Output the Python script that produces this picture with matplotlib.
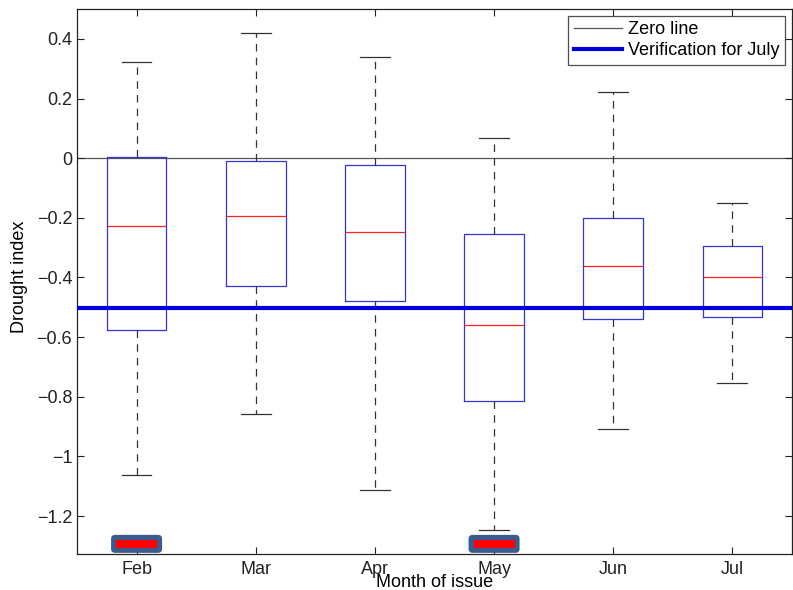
import matplotlib
matplotlib.use("Agg")
import matplotlib.pyplot as plt
from matplotlib.patches import FancyBboxPatch

plt.rcParams['font.family'] = ['Liberation Sans', 'DejaVu Sans']

months = ['Feb', 'Mar', 'Apr', 'May', 'Jun', 'Jul']
whisker_high = [0.322, 0.418, 0.340, 0.067, 0.222, -0.150]
q3 = [0.005, -0.010, -0.022, -0.253, -0.200, -0.295]
median = [-0.228, -0.195, -0.246, -0.560, -0.360, -0.398]
q1 = [-0.575, -0.430, -0.480, -0.813, -0.540, -0.532]
whisker_low = [-1.062, -0.858, -1.113, -1.248, -0.908, -0.755]

verification_july = -0.503
flagged_months = ['Feb', 'May']
flag_level = -1.293

fig = plt.figure(figsize=(7.93, 5.90), dpi=100)
ax = fig.add_axes([0.0971, 0.061, 0.9016, 0.9237])

stats = []
for m, wh, hi, med, lo, wl in zip(months, whisker_high, q3, median, q1, whisker_low):
    stats.append(dict(label=m, whishi=wh, q3=hi, med=med, q1=lo, whislo=wl, fliers=[]))

positions = list(range(1, len(months) + 1))
ax.bxp(stats, positions=positions, widths=0.5, showfliers=False,
       boxprops=dict(color='#3535d0', linewidth=0.9),
       medianprops=dict(color='#ff2020', linewidth=0.9),
       whiskerprops=dict(color='#333333', linewidth=0.9, linestyle=(0, (6, 5))),
       capprops=dict(color='#333333', linewidth=0.9))

ax.axhline(0, color='#555555', linewidth=0.9, label='Zero line', zorder=1)
ax.axhline(verification_july, color='#0000dd', linewidth=3, label='Verification for July', zorder=3)

# flagged issue months: rounded slate box with a red bar inside
y_per_px = (0.5 + 1.327) / 545.0
x_per_px = 6.0 / 715.0
for m in flagged_months:
    x = positions[months.index(m)]
    ow, oh = 51 * x_per_px, 18 * y_per_px
    outer = FancyBboxPatch((x - ow / 2, flag_level - oh / 2), ow, oh,
                           boxstyle="round,pad=0,rounding_size=%f" % (4 * x_per_px),
                           mutation_aspect=y_per_px / x_per_px,
                           facecolor='#3b5b8c', edgecolor='none', zorder=4, clip_on=False)
    ax.add_patch(outer)
    iw, ih = 41 * x_per_px, 8.5 * y_per_px
    inner = FancyBboxPatch((x - iw / 2, flag_level - ih / 2), iw, ih,
                           boxstyle="square,pad=0", facecolor='#ff0000',
                           edgecolor='none', zorder=5, clip_on=False)
    ax.add_patch(inner)

ax.set_xlim(0.5, 6.5)
ax.set_ylim(-1.327, 0.5)
ax.set_xticks(positions)
ax.set_xticklabels(months)
ax.set_yticks([-1.2, -1.0, -0.8, -0.6, -0.4, -0.2, 0.0, 0.2, 0.4])
ax.set_yticklabels(['\u22121.2', '\u22121', '\u22120.8', '\u22120.6', '\u22120.4',
                    '\u22120.2', '0', '0.2', '0.4'])
ax.tick_params(direction='in', length=5, width=0.8, top=True, right=True,
               labelsize=13, colors='#222222')
ax.tick_params(axis='x', pad=5)
ax.tick_params(axis='y', pad=3.5)
for s in ax.spines.values():
    s.set_color('#222222')
    s.set_linewidth(0.9)

ax.set_ylabel('Drought index', fontsize=13)
ax.yaxis.set_label_coords(-0.068, 0.508)
ax.set_xlabel('Month of issue', fontsize=13, labelpad=-3)

leg = ax.legend(loc='upper right', fontsize=13, frameon=True, fancybox=False,
                edgecolor='#222222', borderpad=0.3, handlelength=2.67,
                handletextpad=0.33, labelspacing=0.2, borderaxespad=0.39)
leg.get_frame().set_linewidth(0.9)

fig.savefig('out.png', dpi=100)
